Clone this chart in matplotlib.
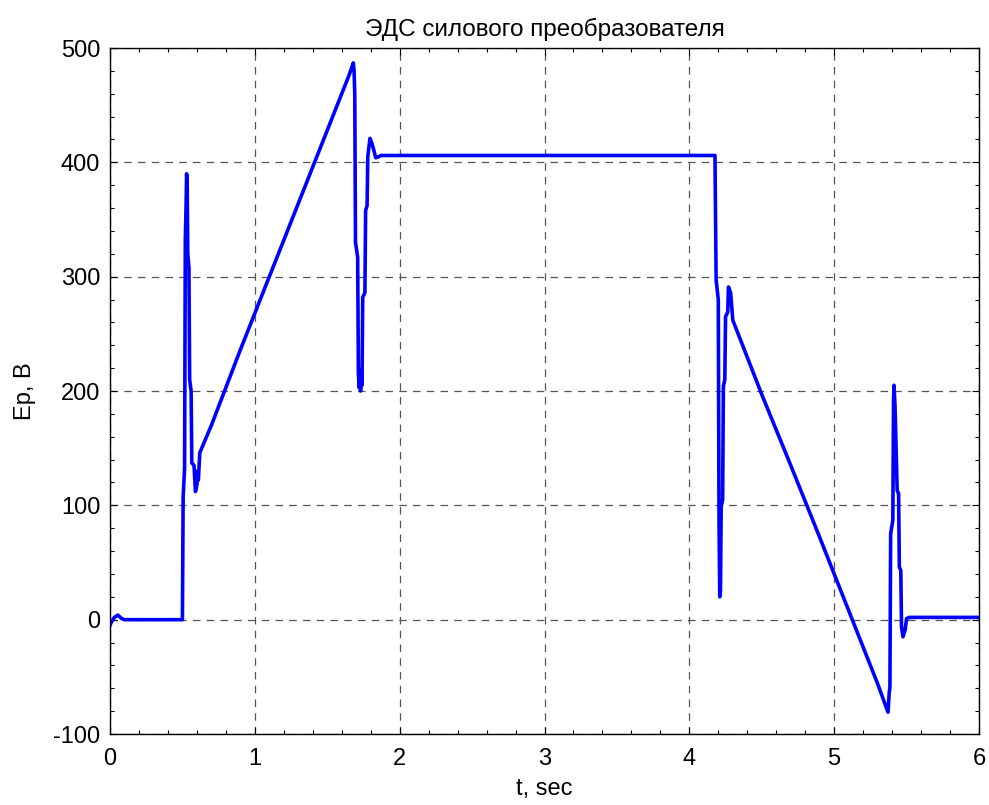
import matplotlib
matplotlib.use('Agg')
import matplotlib.pyplot as plt
from matplotlib.ticker import MultipleLocator

plt.rcParams['font.family'] = ['Liberation Sans', 'DejaVu Sans']
plt.rcParams['axes.unicode_minus'] = False

# ЭДС силового преобразователя
t = [0.0, 0.01, 0.03, 0.055, 0.08, 0.10, 0.50, 0.505, 0.51, 0.515, 0.52, 0.525,
     0.529, 0.533, 0.537, 0.545, 0.55, 0.56, 0.565, 0.58, 0.59, 0.60, 0.605, 0.61,
     0.62, 0.66, 0.7, 0.8, 0.9, 1.0, 1.2, 1.4, 1.6, 1.65, 1.68, 1.685, 1.69,
     1.695, 1.71, 1.715, 1.72, 1.725, 1.73, 1.735, 1.74, 1.745, 1.76, 1.765,
     1.775, 1.78, 1.795, 1.81, 1.835, 1.857, 1.87, 4.177, 4.185, 4.2, 4.205,
     4.21, 4.215, 4.22, 4.23, 4.235, 4.245, 4.25, 4.265, 4.27, 4.285, 4.30,
     4.5, 4.7, 4.9, 5.1, 5.3, 5.372, 5.38, 5.385, 5.39, 5.405, 5.41, 5.413,
     5.42, 5.435, 5.445, 5.45, 5.46, 5.465, 5.475, 5.49, 5.5, 5.52, 6.0]
ep = [-5, -2, 2, 4, 1, 0, 0, 107, 120, 133, 332, 360,
      390, 380, 320, 308, 210, 200, 137, 135, 112, 118, 130, 122,
      146, 158, 170, 203, 236, 268, 332, 396, 460, 476, 487, 480, 460,
      330, 317, 216, 203, 218, 200, 215, 205, 282, 286, 358,
      362, 405, 421, 416, 404, 405, 406, 406, 297, 280, 85,
      20, 25, 99, 105, 204, 210, 265, 269, 291, 286, 262,
      197, 135, 72, 8, -56, -81, -64, -59, 75, 87, 192, 205,
      188, 113, 110, 46, 43, -6, -15, -9, 1, 2, 2]

fig = plt.figure(figsize=(9.89, 8.05), dpi=100)
ax = fig.add_axes([110/989, 71/805, 869/989, 686/805])

ax.plot(t, ep, color='#0000ff', linewidth=2.6)

ax.set_xlim(0, 6)
ax.set_ylim(-100, 500)
ax.xaxis.set_major_locator(MultipleLocator(1))
ax.xaxis.set_minor_locator(MultipleLocator(0.2))
ax.yaxis.set_major_locator(MultipleLocator(100))
ax.yaxis.set_minor_locator(MultipleLocator(20))
ax.tick_params(which='both', direction='in', top=True, right=True,
               labelsize=17, width=0.8)
ax.tick_params(which='major', length=5, pad=7)
ax.tick_params(axis='x', which='major', pad=10)
ax.tick_params(which='minor', length=3)
ax.grid(True, which='major', linestyle=(0, (6, 5)), color='#555555', linewidth=0.9)
for s in ax.spines.values():
    s.set_linewidth(1.0)

ax.set_title('ЭДС силового преобразователя', fontsize=17.5, pad=9)
ax.set_xlabel('t, sec', fontsize=17, labelpad=6)
ax.set_ylabel('Ep, B', fontsize=17, labelpad=12)

fig.savefig('out.png', dpi=100)
